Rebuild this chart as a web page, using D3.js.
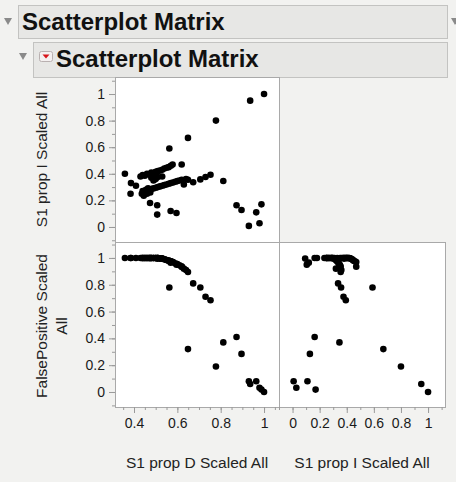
<!DOCTYPE html>
<html>
<head>
<meta charset="utf-8">
<script src="https://cdn.jsdelivr.net/npm/d3@7"></script>
<style>
  html, body { margin: 0; padding: 0; background: #f2f2f0; }
  svg { display: block; }
</style>
</head>
<body>
<div id="chart"></div>
<script>
// Variable names
const varD = "S1 prop D Scaled All";
const varI = "S1 prop I Scaled All";
const varFP = ["FalsePositive Scaled", "All"];

// One entry per row: S1 prop D, S1 prop I, FalsePositive (all scaled)
const propD = [
    1.00, 0.936, 0.778, 0.649, 0.563, 0.358, 0.386, 0.409, 0.384, 0.474,
    0.507, 0.507, 0.569, 0.596, 0.812, 0.873, 0.896, 0.988, 0.964, 0.93,
    0.979, 0.673, 0.706, 0.73, 0.753, 0.62, 0.63, 0.649,
    0.43, 0.44, 0.45, 0.46, 0.47, 0.48, 0.49, 0.50, 0.51, 0.52,
    0.53, 0.54, 0.55, 0.56, 0.57, 0.578, 0.48, 0.50, 0.51, 0.53, 0.49,
    0.436, 0.44, 0.445, 0.45, 0.455, 0.46, 0.47, 0.48, 0.49, 0.50,
    0.51, 0.52, 0.53, 0.54, 0.55, 0.56, 0.57, 0.58, 0.59, 0.60,
    0.61, 0.64, 0.465, 0.475, 0.62
];
const propI = [
    1.00, 0.95, 0.80, 0.67, 0.59, 0.40, 0.33, 0.31, 0.25, 0.18,
    0.163, 0.093, 0.12, 0.105, 0.346, 0.163, 0.128, 0.17, 0.11, 0.008,
    0.028, 0.336, 0.358, 0.376, 0.393, 0.47, 0.32, 0.355,
    0.38, 0.39, 0.385, 0.40, 0.395, 0.41, 0.405, 0.415, 0.42, 0.425,
    0.43, 0.44, 0.445, 0.45, 0.46, 0.47, 0.37, 0.36, 0.375, 0.38, 0.35,
    0.25, 0.27, 0.235, 0.26, 0.28, 0.25, 0.27, 0.285, 0.29, 0.295,
    0.30, 0.305, 0.31, 0.315, 0.32, 0.325, 0.33, 0.335, 0.34, 0.345,
    0.35, 0.36, 0.29, 0.26, 0.355
];
const falsePos = [
    0.00, 0.06, 0.19, 0.32, 0.78, 1.00, 1.00, 1.00, 1.00, 1.00,
    1.00, 0.995, 0.965, 0.95, 0.37, 0.41, 0.284, 0.018, 0.08, 0.08,
    0.032, 0.81, 0.78, 0.71, 0.684, 0.935, 0.92, 0.895,
    1.00, 1.00, 1.00, 1.00, 1.00, 1.00, 1.00, 1.00, 1.00, 0.995,
    0.995, 0.99, 0.985, 0.98, 0.975, 0.97, 1.00, 1.00, 1.00, 0.995, 1.00,
    1.00, 1.00, 1.00, 1.00, 1.00, 1.00, 1.00, 1.00, 1.00, 1.00,
    1.00, 0.995, 0.995, 0.99, 0.985, 0.98, 0.975, 0.97, 0.96, 0.955,
    0.945, 0.91, 1.00, 1.00, 0.935
];

// Tick values
const ticksUnit = [0, 0.2, 0.4, 0.6, 0.8, 1];
const ticksUnitMinor = [-0.1, 0, 0.1, 0.2, 0.3, 0.4, 0.5, 0.6, 0.7, 0.8, 0.9, 1, 1.1];
const ticksD = [0.4, 0.6, 0.8, 1];
const ticksDMinor = [0.35, 0.4, 0.45, 0.5, 0.55, 0.6, 0.65, 0.7, 0.75, 0.8, 0.85, 0.9, 0.95, 1, 1.05];

const rows = propD.map((d, i) => ({ d: d, i: propI[i], fp: falsePos[i] }));

const W = 456, H = 482;
const FONT = "'Liberation Sans', Arial, Helvetica, sans-serif";

const svg = d3.select("#chart").append("svg")
    .attr("width", W)
    .attr("height", H);

svg.append("rect")
    .attr("width", W)
    .attr("height", H)
    .attr("fill", "#f2f2f0");

// ---- Outline headers ----
function header(x, y, w, h, textX, baseline, triX, triY) {
    svg.append("rect")
        .attr("x", x + 0.5).attr("y", y + 0.5)
        .attr("width", w).attr("height", h)
        .attr("fill", "#e7e7e5")
        .attr("stroke", "#c3c3c1");
    svg.append("path")
        .attr("d", `M${triX},${triY} L${triX + 8},${triY} L${triX + 4},${triY + 7} Z`)
        .attr("fill", "#8a8a8a");
    svg.append("text")
        .attr("x", textX).attr("y", baseline)
        .attr("font-family", FONT)
        .attr("font-size", "24px")
        .attr("font-weight", "700")
        .attr("fill", "#111")
        .text("Scatterplot Matrix");
}
header(18, 5, 429, 33, 22, 30, 4, 18);
header(33, 42, 414, 35, 56, 67, 19, 53);

// right-edge triangle of the outer outline
svg.append("path")
    .attr("d", "M451,18 L459,18 L455,25 Z")
    .attr("fill", "#8a8a8a");

// red popup icon
svg.append("rect")
    .attr("x", 39.5).attr("y", 51.5)
    .attr("width", 13).attr("height", 10).attr("rx", 2)
    .attr("fill", "#f4f0f0")
    .attr("stroke", "#b9b0b0");
svg.append("path")
    .attr("d", "M42.5,54.5 L49.5,54.5 L46,58.5 Z")
    .attr("fill", "#d7141a");

// ---- Scales ----
const colL = [115, 279], colR = [279, 445];
const rowT = [242, 77], rowB = [407, 242];

const xD = d3.scaleLinear().domain([0.3123, 1.069]).range(colL);
const xI = d3.scaleLinear().domain([-0.1, 1.125]).range(colR);
const yI = d3.scaleLinear().domain([-0.113, 1.128]).range(rowT);
const yFP = d3.scaleLinear().domain([-0.112, 1.119]).range(rowB);

const panels = [
    { x: xD, y: yI, fx: r => r.d, fy: r => r.i },
    { x: xD, y: yFP, fx: r => r.d, fy: r => r.fp },
    { x: xI, y: yFP, fx: r => r.i, fy: r => r.fp }
];

const g = svg.append("g");

panels.forEach(p => {
    const [x0, x1] = p.x.range();
    const [y1, y0] = p.y.range();
    g.append("rect")
        .attr("x", x0 + 0.5).attr("y", y0 + 0.5)
        .attr("width", x1 - x0).attr("height", y1 - y0)
        .attr("fill", "#ffffff")
        .attr("stroke", "#a9a9a9");

    g.append("g")
        .selectAll("circle")
        .data(rows)
        .enter().append("circle")
        .attr("cx", r => p.x(p.fx(r)))
        .attr("cy", r => p.y(p.fy(r)))
        .attr("r", 3.3)
        .attr("fill", "#000");
});

// ---- Axes ----
function styleAxis(sel) {
    sel.select(".domain").remove();
    sel.selectAll(".tick line").attr("stroke", "#9a9a9a");
    sel.selectAll(".tick text")
        .attr("font-family", FONT)
        .attr("font-size", "14px")
        .attr("fill", "#1a1a1a");
}

function yAxis(scale, xPos) {
    const minor = g.append("g")
        .attr("transform", `translate(${xPos},0)`)
        .call(d3.axisLeft(scale).tickValues(ticksUnitMinor).tickSize(3).tickFormat(""));
    styleAxis(minor);
    const major = g.append("g")
        .attr("transform", `translate(${xPos},0)`)
        .call(d3.axisLeft(scale).tickValues(ticksUnit).tickSize(6).tickPadding(4)
            .tickFormat(d3.format("~g")));
    styleAxis(major);
}

function xAxis(scale, yPos, majorVals, minorVals) {
    const minor = g.append("g")
        .attr("transform", `translate(0,${yPos})`)
        .call(d3.axisBottom(scale).tickValues(minorVals).tickSize(3).tickFormat(""));
    styleAxis(minor);
    const major = g.append("g")
        .attr("transform", `translate(0,${yPos})`)
        .call(d3.axisBottom(scale).tickValues(majorVals).tickSize(6).tickPadding(5)
            .tickFormat(d3.format("~g")));
    styleAxis(major);
}

yAxis(yI, 115);
yAxis(yFP, 115);
xAxis(xD, 407, ticksD, ticksDMinor);
xAxis(xI, 407, ticksUnit, ticksUnitMinor);

// ---- Axis titles ----
function title(x, y, text, rotate) {
    const t = g.append("text")
        .attr("x", x).attr("y", y)
        .attr("text-anchor", "middle")
        .attr("font-family", FONT)
        .attr("font-size", "15.5px")
        .attr("fill", "#222")
        .text(text);
    if (rotate) t.attr("transform", `rotate(-90, ${x}, ${y})`);
}

title(197, 468, varD, false);
title(362, 468, varI, false);
title(47, 159.5, varI, true);
title(47, 326, varFP[0], true);
title(67, 326, varFP[1], true);
</script>
</body>
</html>
